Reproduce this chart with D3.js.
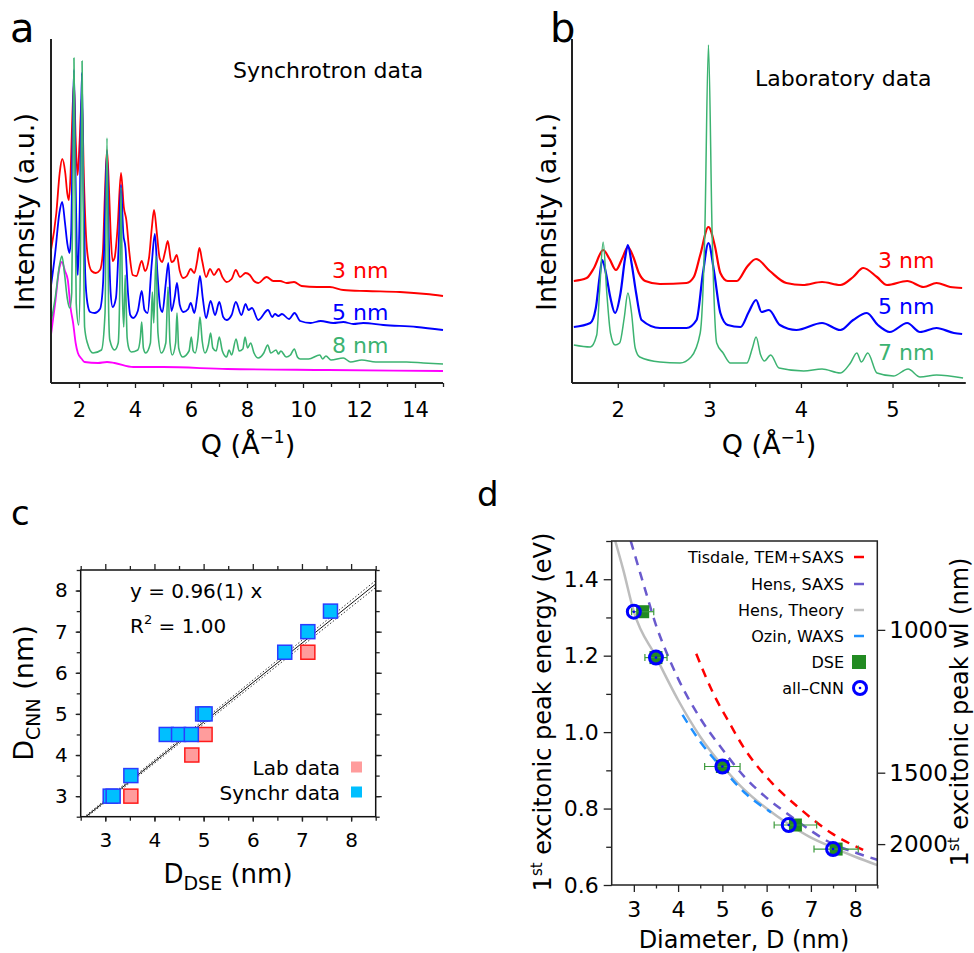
<!DOCTYPE html>
<html>
<head>
<meta charset="utf-8">
<script src="https://cdn.jsdelivr.net/npm/d3@7"></script>
<style>
  body { margin: 0; background: #fff; }
  svg text { font-family: "DejaVu Sans", sans-serif; fill: #000; }
</style>
</head>
<body>
<svg id="fig" width="974" height="953"></svg>
<script>
// ---------------- Data ----------------
// Panel a: synchrotron scattering patterns, [Q (1/Å), intensity (a.u.)]
const synch3nm = [[1.0,133],[1.19,170],[1.31,210],[1.40,224],[1.51,210],[1.58,190],[1.64,183],[1.70,210],[1.76,265],[1.82,300],[1.88,245],[1.95,208],[2.02,240],[2.10,286],[2.18,200],[2.25,148],[2.32,125],[2.45,112],[2.6,110],[2.75,113],[2.85,130],[2.92,185],[3.0,233],[3.07,195],[3.13,150],[3.2,122],[3.27,125],[3.38,156],[3.5,210],[3.6,176],[3.69,163],[3.8,130],[3.92,108],[4.05,107],[4.24,122],[4.36,112],[4.5,125],[4.6,155],[4.68,173],[4.78,150],[4.88,125],[4.97,121],[5.08,132],[5.17,142],[5.3,121],[5.38,122],[5.49,128],[5.6,112],[5.72,105],[5.85,107],[5.99,114],[6.12,110],[6.22,122],[6.3,135],[6.4,122],[6.54,106],[6.68,114],[6.82,108],[6.99,114],[7.12,106],[7.27,101],[7.45,104],[7.6,113],[7.75,106],[7.95,110],[8.1,108],[8.25,102],[8.4,100],[8.7,106],[8.94,102],[9.18,102],[9.42,100],[9.68,101],[9.95,97],[10.5,96],[10.96,96],[11.44,93],[12.27,92],[13.46,91],[14.4,89],[15.0,87]];
const synch5nm = [[1.0,97],[1.15,130],[1.3,170],[1.4,181],[1.5,160],[1.58,140],[1.66,130],[1.72,150],[1.77,240],[1.82,313],[1.87,220],[1.93,120],[1.96,108],[2.03,180],[2.1,310],[2.16,190],[2.22,110],[2.3,80],[2.4,71],[2.56,70],[2.75,74],[2.86,100],[2.93,170],[3.0,232],[3.06,150],[3.13,90],[3.2,76],[3.32,85],[3.42,140],[3.5,198],[3.58,150],[3.66,135],[3.75,90],[3.83,68],[3.93,65],[4.1,72],[4.24,92],[4.34,73],[4.45,70],[4.6,120],[4.71,149],[4.8,110],[4.9,76],[4.98,71],[5.1,100],[5.19,120],[5.3,72],[5.42,86],[5.5,100],[5.6,78],[5.73,71],[5.9,74],[5.99,80],[6.12,70],[6.22,86],[6.32,107],[6.42,85],[6.54,65],[6.7,82],[6.86,68],[7.01,81],[7.15,66],[7.27,63],[7.45,68],[7.6,81],[7.8,68],[7.95,79],[8.05,73],[8.18,75],[8.4,63],[8.75,73],[8.9,66],[9.0,69],[9.12,67],[9.25,69],[9.5,64],[9.7,70],[9.9,62],[10.27,60],[10.63,62],[11.08,60],[11.44,61],[11.8,59],[12.15,60],[12.87,58],[14.06,56],[15.0,53]];
const synch8nm = [[1.0,61],[1.15,85],[1.3,117],[1.39,127],[1.48,110],[1.58,85],[1.67,75],[1.74,90],[1.78,200],[1.82,325],[1.86,200],[1.9,80],[1.99,58],[2.05,120],[2.11,322],[2.16,150],[2.2,56],[2.3,40],[2.5,30],[2.8,33],[2.93,70],[3.0,245],[3.06,70],[3.1,43],[3.27,33],[3.4,40],[3.46,100],[3.5,196],[3.55,90],[3.6,56],[3.65,108],[3.72,45],[3.8,33],[3.87,31],[4.1,33],[4.19,45],[4.24,61],[4.3,35],[4.38,30],[4.55,40],[4.62,91],[4.67,60],[4.75,127],[4.82,50],[4.94,30],[5.1,40],[5.18,96],[5.25,40],[5.33,28],[5.45,40],[5.5,70],[5.56,35],[5.7,26],[5.93,32],[6.01,46],[6.08,32],[6.15,30],[6.25,45],[6.32,66],[6.4,42],[6.5,30],[6.62,38],[6.7,50],[6.78,35],[6.9,32],[7.01,46],[7.12,32],[7.27,26],[7.36,33],[7.45,28],[7.61,44],[7.72,32],[7.85,34],[7.93,46],[8.02,35],[8.13,40],[8.25,30],[8.4,25],[8.6,30],[8.74,38],[8.85,30],[9.04,33],[9.12,29],[9.21,32],[9.4,26],[9.55,28],[9.69,34],[9.8,26],[9.9,24],[10.2,24],[10.6,28],[10.7,24],[10.82,27],[11.0,23],[11.44,25],[11.7,21],[12.1,23],[12.6,21],[13.7,21],[14.3,20],[15.0,19]];
const synchBg = [[1.0,48],[1.15,80],[1.3,115],[1.39,121],[1.5,112],[1.6,103],[1.7,75],[1.79,60],[1.88,40],[1.96,30],[2.1,24],[2.2,21],[2.68,20],[3.0,21],[3.27,20],[3.94,16],[5.0,16],[7.3,14],[10.9,13],[15.0,12]];
const synchLabels = ["3 nm", "5 nm", "8 nm"];
const synchTicks = [2, 4, 6, 8, 10, 12, 14];

// Panel b: laboratory scattering patterns
const lab3nm = [[1.52,102],[1.66,105],[1.74,115],[1.84,133],[1.91,124],[1.98,113],[2.05,125],[2.11,136],[2.17,126],[2.23,110],[2.3,102],[2.46,99],[2.75,100],[2.83,106],[2.9,128],[2.99,156],[3.06,137],[3.12,110],[3.2,102],[3.3,102],[3.41,116],[3.51,124],[3.66,112],[3.84,100],[4.02,98],[4.23,101],[4.43,98],[4.57,106],[4.68,115],[4.83,106],[4.94,98],[5.16,102],[5.34,96],[5.48,100],[5.63,96],[5.76,95]];
const lab5nm = [[1.52,56],[1.7,60],[1.76,75],[1.8,105],[1.83,123],[1.87,110],[1.92,85],[1.97,70],[2.03,90],[2.08,125],[2.11,138],[2.15,120],[2.2,90],[2.26,63],[2.46,55],[2.75,55],[2.86,63],[2.93,110],[2.99,140],[3.05,112],[3.12,70],[3.2,58],[3.34,56],[3.43,71],[3.51,83],[3.57,71],[3.65,73],[3.77,58],[3.95,53],[4.23,60],[4.43,53],[4.57,63],[4.72,70],[4.84,58],[4.97,51],[5.16,60],[5.3,51],[5.48,55],[5.67,50],[5.76,49]];
const lab7nm = [[1.52,38],[1.7,36],[1.77,48],[1.8,90],[1.84,141],[1.88,90],[1.92,50],[1.97,38],[2.02,40],[2.07,65],[2.11,90],[2.15,70],[2.19,35],[2.24,26],[2.46,21],[2.68,20],[2.8,26],[2.9,50],[2.95,150],[2.99,338],[3.03,150],[3.08,40],[3.15,30],[3.23,20],[3.41,20],[3.47,35],[3.51,46],[3.56,28],[3.6,22],[3.67,28],[3.76,15],[4.03,12],[4.23,14],[4.43,10],[4.54,20],[4.61,30],[4.66,21],[4.73,30],[4.83,10],[5.01,7],[5.17,14],[5.3,6],[5.48,8],[5.77,5]];
const labLabels = ["3 nm", "5 nm", "7 nm"];
const labTicks = [2, 3, 4, 5];

// Panel c: CNN size vs DSE size (nm)
const labDSE   = [3.52, 4.76, 5.03, 7.12];
const labCNN   = [3.0, 4.0, 4.5, 6.5];
const synDSE   = [3.1, 3.16, 3.52, 4.24, 4.49, 4.75, 4.98, 5.03, 6.65, 7.12, 7.58];
const synCNN   = [3.0, 3.0, 3.5, 4.5, 4.5, 4.5, 5.0, 5.0, 6.5, 7.0, 7.5];
const fitSlope = 0.96, fitSlopeLow = 0.95, fitSlopeHigh = 0.97;
const cTicks = [3, 4, 5, 6, 7, 8];

// Panel d: first excitonic peak energy vs diameter
const tisdale    = [[4.41,1.205],[4.8,1.1],[5.13,1.03],[5.47,0.962],[6.08,0.872],[6.75,0.80],[7.5,0.733],[8.18,0.692]];
const hensSaxs   = [[2.93,1.5],[3.25,1.375],[3.5,1.28],[3.75,1.205],[4.0,1.14],[4.5,1.036],[5.0,0.955],[5.5,0.883],[6.0,0.828],[6.5,0.784],[7.0,0.742],[7.5,0.707],[8.0,0.685],[8.5,0.666]];
const hensTheory = [[2.58,1.5],[2.76,1.425],[3.0,1.315],[3.5,1.197],[4.0,1.084],[4.5,0.988],[5.0,0.912],[5.47,0.852],[6.0,0.80],[6.5,0.759],[6.97,0.726],[7.5,0.698],[8.0,0.674],[8.5,0.652]];
const ozinWaxs   = [[4.1,1.045],[4.5,0.975],[5.0,0.905],[5.5,0.842],[6.1,0.79]];
const dseD   = [3.2, 3.5, 5.0, 6.65, 7.57];
const dseE   = [1.315, 1.195, 0.91, 0.757, 0.694];
const dseErr = [0.25, 0.25, 0.4, 0.48, 0.5];
const cnnD   = [3.0, 3.5, 5.0, 6.5, 7.5];
const cnnE   = [1.315, 1.195, 0.91, 0.757, 0.694];
const wlTicks = [1000, 1500, 2000];
const dLegend = ["Tisdale, TEM+SAXS", "Hens, SAXS", "Hens, Theory", "Ozin, WAXS", "DSE", "all\u2013CNN"];

// ---------------- Drawing ----------------
const NUM_FONT = '"Liberation Sans", Arial, sans-serif';
const RED = "#ff0000", BLUE = "#0000ff", GREEN = "#3cb371", MAGENTA = "#ff00ff";
const svg = d3.select("#fig");
const defs = svg.append("defs");

function tidy(g, size) {
  g.select(".domain").remove();
  g.selectAll(".tick line").attr("stroke", "#222").attr("stroke-width", 1.3);
  g.selectAll(".tick text").attr("font-family", NUM_FONT).attr("font-size", size).attr("fill", "#111");
}
function rotLabel(parent, x, y, size) {
  return parent.append("text").attr("transform", `translate(${x},${y}) rotate(-90)`)
    .attr("text-anchor", "middle").attr("font-size", size);
}
function qTitle(parent, cx) {
  const t = parent.append("text").attr("x", cx).attr("y", 454).attr("text-anchor", "middle").attr("font-size", 27);
  t.append("tspan").text("Q (\u00C5");
  t.append("tspan").attr("font-size", 17).attr("dy", -11).text("\u22121");
  t.append("tspan").attr("dy", 11).text(")");
}

// ---- Panel a / b (scattering patterns)
function patternPanel(opts) {
  const g = svg.append("g");
  const x = d3.scaleLinear().domain(opts.xDomain).range(opts.xRange);
  const y = d3.scaleLinear().domain([0, 344]).range([383, 39]);
  const line = d3.line().x(d => x(d[0])).y(d => y(d[1])).curve(d3.curveMonotoneX);

  opts.series.forEach(s => {
    g.append("path").datum(s.data).attr("d", line).attr("fill", "none")
      .attr("stroke", s.color).attr("stroke-width", s.width).attr("stroke-linejoin", "round");
  });

  // axes
  g.append("g").attr("transform", "translate(0,383)")
    .call(d3.axisBottom(x).tickValues(opts.minor).tickSize(4).tickFormat(""))
    .call(a => tidy(a, 20));
  g.append("g").attr("transform", "translate(0,383)")
    .call(d3.axisBottom(x).tickValues(opts.major).tickSize(5).tickPadding(14).tickFormat(d3.format("d")))
    .call(a => tidy(a, 21));
  g.append("line").attr("x1", x.range()[0]).attr("x2", x.range()[0]).attr("y1", 39).attr("y2", 383)
    .attr("stroke", "#222").attr("stroke-width", 2);
  g.append("line").attr("x1", x.range()[0]).attr("x2", x.range()[1]).attr("y1", 383).attr("y2", 383)
    .attr("stroke", "#222").attr("stroke-width", 2);

  // curve labels
  opts.labels.forEach((lab, i) => {
    g.append("text").attr("x", opts.labelX).attr("y", opts.labelY[i]).attr("font-size", 22)
      .style("fill", opts.labelColors[i]).text(lab);
  });
  g.append("text").attr("x", opts.noteX).attr("y", opts.noteY).attr("font-size", 22).text(opts.note);
  rotLabel(g, opts.yTitleX, 212, 27).text("Intensity (a.u.)");
  qTitle(g, opts.qTitleX);
  g.append("text").attr("x", opts.letterX).attr("y", 42).attr("font-size", 40).text(opts.letter);
}

patternPanel({
  xDomain: [1, 15], xRange: [51, 443],
  series: [
    { data: synchBg, color: MAGENTA, width: 1.8 },
    { data: synch3nm, color: RED, width: 1.8 },
    { data: synch5nm, color: BLUE, width: 1.8 },
    { data: synch8nm, color: GREEN, width: 1.6 }
  ],
  major: synchTicks, minor: d3.range(3, 16, 2),
  labels: synchLabels, labelColors: [RED, BLUE, GREEN], labelX: 332, labelY: [278, 320, 353],
  note: "Synchrotron data", noteX: 233, noteY: 78,
  yTitleX: 34, qTitleX: 248, letter: "a", letterX: 10
});
patternPanel({
  xDomain: [1.5, 5.8], xRange: [572, 965.8],
  series: [
    { data: lab3nm, color: RED, width: 2.2 },
    { data: lab5nm, color: BLUE, width: 2.2 },
    { data: lab7nm, color: GREEN, width: 1.5 }
  ],
  major: labTicks, minor: [2.5, 3.5, 4.5, 5.5],
  labels: labLabels, labelColors: [RED, BLUE, GREEN], labelX: 878, labelY: [268, 314, 360],
  note: "Laboratory data", noteX: 755, noteY: 86,
  yTitleX: 556, qTitleX: 769, letter: "b", letterX: 550
});

// ---- Panel c
(function () {
  const g = svg.append("g");
  const x = d3.scaleLinear().domain([2.5, 8.5]).range([80.7, 375.7]);
  const y = d3.scaleLinear().domain([2.5, 8.5]).range([816.7, 570]);
  defs.append("clipPath").attr("id", "clipC").append("rect")
    .attr("x", 80.7).attr("y", 570).attr("width", 295).attr("height", 246.7);

  const plot = g.append("g").attr("clip-path", "url(#clipC)");
  const xs = [2.5, 8.5];
  [fitSlopeLow, fitSlopeHigh].forEach(k => {
    plot.append("line").attr("x1", x(xs[0])).attr("y1", y(k * xs[0])).attr("x2", x(xs[1])).attr("y2", y(k * xs[1]))
      .attr("stroke", "#333").attr("stroke-width", 1).attr("stroke-dasharray", "1.5,2");
  });
  plot.append("line").attr("x1", x(xs[0])).attr("y1", y(fitSlope * xs[0])).attr("x2", x(xs[1])).attr("y2", y(fitSlope * xs[1]))
    .attr("stroke", "#111").attr("stroke-width", 1);

  const S = 14;
  g.selectAll("rect.lab").data(labDSE).enter().append("rect")
    .attr("x", (d) => x(d) - S / 2).attr("y", (d, i) => y(labCNN[i]) - S / 2)
    .attr("width", S).attr("height", S).attr("fill", "#ff9c9c").attr("stroke", "#ff1a1a").attr("stroke-width", 1.5);
  g.selectAll("rect.syn").data(synDSE).enter().append("rect")
    .attr("x", (d) => x(d) - S / 2).attr("y", (d, i) => y(synCNN[i]) - S / 2)
    .attr("width", S).attr("height", S).attr("fill", "#00bfff").attr("stroke", "#2a3cff").attr("stroke-width", 1.5);

  // frame and ticks on all sides
  g.append("rect").attr("x", 80.7).attr("y", 570).attr("width", 295).attr("height", 246.7)
    .attr("fill", "none").attr("stroke", "#111").attr("stroke-width", 1.5);
  const minors = d3.range(2.5, 8.51, 0.5).filter(v => v % 1 !== 0);
  const addAxis = (axis, tr, size) => g.append("g").attr("transform", tr).call(axis).call(a => tidy(a, size));
  addAxis(d3.axisBottom(x).tickValues(cTicks).tickSize(5).tickPadding(11).tickFormat(d3.format("d")), "translate(0,816.7)", 20);
  addAxis(d3.axisBottom(x).tickValues(minors).tickSize(4).tickFormat(""), "translate(0,816.7)", 20);
  addAxis(d3.axisTop(x).tickValues(cTicks).tickSize(-4).tickFormat(""), "translate(0,816.7)", 20);
  addAxis(d3.axisTop(x).tickValues(cTicks).tickSize(6).tickFormat(""), "translate(0,570)", 20);
  addAxis(d3.axisTop(x).tickValues(minors).tickSize(4).tickFormat(""), "translate(0,570)", 20);
  addAxis(d3.axisLeft(y).tickValues(cTicks).tickSize(5).tickPadding(8).tickFormat(d3.format("d")), "translate(80.7,0)", 20);
  addAxis(d3.axisLeft(y).tickValues(minors).tickSize(4).tickFormat(""), "translate(80.7,0)", 20);
  addAxis(d3.axisRight(y).tickValues(cTicks).tickSize(-4).tickFormat(""), "translate(80.7,0)", 20);
  addAxis(d3.axisRight(y).tickValues(cTicks).tickSize(6).tickFormat(""), "translate(375.7,0)", 20);
  addAxis(d3.axisRight(y).tickValues(minors).tickSize(4).tickFormat(""), "translate(375.7,0)", 20);
  addAxis(d3.axisLeft(y).tickValues(cTicks).tickSize(-4).tickFormat(""), "translate(375.7,0)", 20);

  // fit annotation
  g.append("text").attr("x", 130).attr("y", 598).attr("font-size", 20).text("y = 0.96(1) x");
  const r2 = g.append("text").attr("x", 130).attr("y", 633).attr("font-size", 20);
  r2.append("tspan").text("R");
  r2.append("tspan").attr("font-size", 13).attr("dy", -9).text("2");
  r2.append("tspan").attr("dy", 9).text(" = 1.00");

  // legend
  [["Lab data", "#ff9c9c", 775], ["Synchr data", "#00bfff", 800]].forEach(([t, c, by]) => {
    g.append("text").attr("x", 340).attr("y", by).attr("text-anchor", "end").attr("font-size", 20).text(t);
    g.append("rect").attr("x", 351).attr("y", by - 13.5).attr("width", 11).attr("height", 11).attr("fill", c);
  });

  // titles
  const xt = g.append("text").attr("x", 228).attr("y", 883).attr("text-anchor", "middle").attr("font-size", 26);
  xt.append("tspan").text("D");
  xt.append("tspan").attr("font-size", 19).attr("dy", 7).text("DSE");
  xt.append("tspan").attr("dy", -7).text(" (nm)");
  const yt = rotLabel(g, 33, 693, 27);
  yt.append("tspan").text("D");
  yt.append("tspan").attr("font-size", 19).attr("dy", 7).text("CNN");
  yt.append("tspan").attr("dy", -7).text(" (nm)");
  g.append("text").attr("x", 11).attr("y", 525).attr("font-size", 34).text("c");
})();

// ---- Panel d
(function () {
  const g = svg.append("g");
  const x = d3.scaleLinear().domain([2.5, 8.5]).range([611.7, 877.3]);
  const y = d3.scaleLinear().domain([0.6, 1.5]).range([885, 541]);
  // wavelength axis positions expressed on the energy scale
  const wlEnergy = d3.scaleLinear().domain([1 / 1000, 1 / 2000]).range([1.2675, 0.707]);
  const wlScale = d3.scaleLinear().domain([1 / 1000, 1 / 2000]).range([y(wlEnergy(1 / 1000)), y(wlEnergy(1 / 2000))]);

  defs.append("clipPath").attr("id", "clipD").append("rect")
    .attr("x", 611.7).attr("y", 541).attr("width", 265.6).attr("height", 344);
  const plot = g.append("g").attr("clip-path", "url(#clipD)");
  const line = d3.line().x(d => x(d[0])).y(d => y(d[1])).curve(d3.curveMonotoneX);

  const curves = {
    tisdale: { data: tisdale, color: "#ff0000", dash: "9,7" },
    hensSaxs: { data: hensSaxs, color: "#6a5acd", dash: "9,7" },
    hensTheory: { data: hensTheory, color: "#bdbdbd", dash: null },
    ozin: { data: ozinWaxs, color: "#1e90ff", dash: "9,7" }
  };
  [curves.hensTheory, curves.ozin, curves.hensSaxs, curves.tisdale].forEach(c => {
    plot.append("path").datum(c.data).attr("d", line).attr("fill", "none")
      .attr("stroke", c.color).attr("stroke-width", 2.5).attr("stroke-dasharray", c.dash);
  });

  // DSE squares with horizontal error bars
  dseD.forEach((d, i) => {
    const yy = y(dseE[i]);
    g.append("rect").attr("x", x(d) - 6.5).attr("y", yy - 6.5).attr("width", 13).attr("height", 13).attr("fill", "#228b22");
    const x0 = x(d - dseErr[i]), x1 = x(d + dseErr[i]);
    g.append("line").attr("x1", x0).attr("x2", x1).attr("y1", yy).attr("y2", yy).attr("stroke", "#3c9a3c").attr("stroke-width", 1.2);
    [x0, x1].forEach(xc => g.append("line").attr("x1", xc).attr("x2", xc).attr("y1", yy - 3.5).attr("y2", yy + 3.5)
      .attr("stroke", "#3c9a3c").attr("stroke-width", 1.2));
  });
  // all-CNN rings
  cnnD.forEach((d, i) => {
    g.append("circle").attr("cx", x(d)).attr("cy", y(cnnE[i])).attr("r", 6.5)
      .attr("fill", "none").attr("stroke", "#0000ff").attr("stroke-width", 3);
    g.append("circle").attr("cx", x(d)).attr("cy", y(cnnE[i])).attr("r", 1.3).attr("fill", "#0000ff");
  });

  // frame + axes
  g.append("rect").attr("x", 611.7).attr("y", 541).attr("width", 265.6).attr("height", 344)
    .attr("fill", "none").attr("stroke", "#222").attr("stroke-width", 1.5);
  const addAxis = (axis, tr, size) => g.append("g").attr("transform", tr).call(axis).call(a => tidy(a, size));
  addAxis(d3.axisBottom(x).tickValues([3, 4, 5, 6, 7, 8]).tickSize(7).tickPadding(9).tickFormat(d3.format("d")), "translate(0,885)", 22);
  addAxis(d3.axisBottom(x).tickValues([3.5, 4.5, 5.5, 6.5, 7.5, 8.5]).tickSize(3.5).tickFormat(""), "translate(0,885)", 22);
  addAxis(d3.axisLeft(y).tickValues([0.6, 0.8, 1.0, 1.2, 1.4]).tickSize(8).tickPadding(5).tickFormat(d3.format(".1f")), "translate(611.7,0)", 22);
  addAxis(d3.axisLeft(y).tickValues([0.7, 0.9, 1.1, 1.3, 1.5]).tickSize(5.5).tickFormat(""), "translate(611.7,0)", 22);
  addAxis(d3.axisRight(wlScale).tickValues(wlTicks.map(w => 1 / w)).tickSize(8).tickPadding(4)
    .tickFormat(v => Math.round(1 / v)), "translate(877.3,0)", 23);

  // legend
  const legY = [563, 590, 616, 642, 668, 694];
  dLegend.forEach((t, i) => {
    g.append("text").attr("x", 844).attr("y", legY[i]).attr("text-anchor", "end").attr("font-size", 16).text(t);
  });
  [curves.tisdale, curves.hensSaxs, curves.hensTheory, curves.ozin].forEach((c, i) => {
    g.append("line").attr("x1", 854).attr("x2", 864).attr("y1", legY[i] - 6).attr("y2", legY[i] - 6)
      .attr("stroke", c.color).attr("stroke-width", 2.5);
  });
  g.append("rect").attr("x", 852).attr("y", legY[4] - 13).attr("width", 14).attr("height", 14).attr("fill", "#228b22");
  g.append("circle").attr("cx", 860).attr("cy", legY[5] - 6).attr("r", 6.5)
    .attr("fill", "none").attr("stroke", "#0000ff").attr("stroke-width", 3);
  g.append("circle").attr("cx", 860).attr("cy", legY[5] - 6).attr("r", 1.3).attr("fill", "#0000ff");

  // titles
  g.append("text").attr("x", 744).attr("y", 948).attr("text-anchor", "middle").attr("font-size", 24).text("Diameter, D (nm)");
  const yl = rotLabel(g, 551, 712, 24);
  yl.append("tspan").text("1");
  yl.append("tspan").attr("font-size", 15).attr("dy", -9).text("st");
  yl.append("tspan").attr("dy", 9).text(" excitonic peak energy (eV)");
  const yr = rotLabel(g, 968, 712, 24);
  yr.append("tspan").text("1");
  yr.append("tspan").attr("font-size", 15).attr("dy", -9).text("st");
  yr.append("tspan").attr("dy", 9).text(" excitonic peak wl (nm)");
  g.append("text").attr("x", 477).attr("y", 506).attr("font-size", 34).text("d");
})();
</script>
</body>
</html>
